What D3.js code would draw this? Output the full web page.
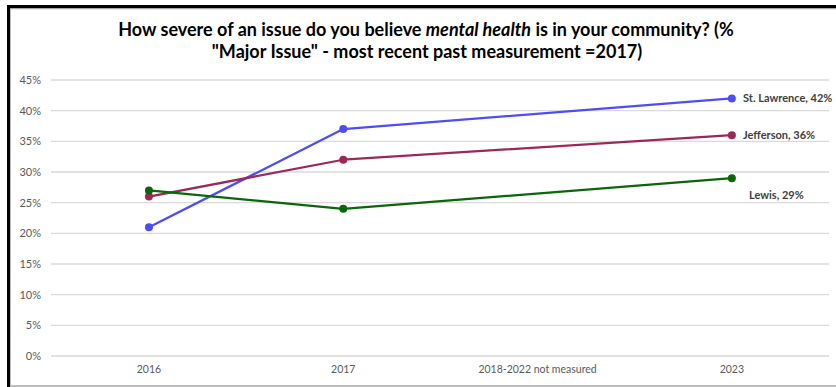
<!DOCTYPE html>
<html><head><meta charset="utf-8">
<script src="https://cdn.jsdelivr.net/npm/d3@7"></script>
<style>
html,body{margin:0;padding:0;background:#fff;}
svg{display:block;}
text{font-family:Lato,"Liberation Sans",sans-serif;}
</style></head>
<body>
<svg id="chart" width="836" height="387"></svg>
<script>
const categories = ["2016", "2017", "2018-2022 not measured", "2023"];
const stLawrence = [21, 37, null, 42];
const jefferson = [26, 32, null, 36];
const lewis = [27, 24, null, 29];
const seriesNames = ["St. Lawrence", "Jefferson", "Lewis"];
const yTicks = [0, 5, 10, 15, 20, 25, 30, 35, 40, 45];

const series = [
  {name: seriesNames[0], values: stLawrence, color: "#4d4df5", lx: 743, ly: 0},
  {name: seriesNames[1], values: jefferson, color: "#9c2857", lx: 743, ly: 0},
  {name: seriesNames[2], values: lewis, color: "#0a660a", lx: 749, ly: 17}
];

const svg = d3.select("#chart");

// frame
svg.append("rect").attr("x", 10).attr("y", 8.5).attr("width", 840).attr("height", 377.5)
  .attr("fill", "#fff").attr("stroke", "#a6a6a6").attr("stroke-width", 1.5);
svg.append("line").attr("x1", 7).attr("x2", 836).attr("y1", 6.5).attr("y2", 6.5)
  .attr("stroke", "#000").attr("stroke-width", 3);
svg.append("line").attr("x1", 8.5).attr("x2", 8.5).attr("y1", 5).attr("y2", 387)
  .attr("stroke", "#000").attr("stroke-width", 3);

// title
const t1 = svg.append("text").attr("font-weight", "bold").attr("font-size", 18).attr("fill", "#000")
  .attr("x", 426).attr("y", 36).attr("text-anchor", "middle");
t1.append("tspan").text("How severe of an issue do you believe ");
t1.append("tspan").attr("font-style", "italic").text("mental health");
t1.append("tspan").text(" is in your community? (%");
svg.append("text").attr("font-weight", "bold").attr("font-size", 18).attr("fill", "#000")
  .attr("x", 427).attr("y", 58).attr("text-anchor", "middle")
  .text("\"Major Issue\" - most recent past measurement =2017)");

const x = d3.scaleBand().domain(categories).range([51.8, 829]).padding(0);
const y = d3.scaleLinear().domain([0, 45]).range([356, 80]);

// gridlines
svg.append("g").selectAll("line").data(yTicks).join("line")
  .attr("x1", 51).attr("x2", 829)
  .attr("y1", d => y(d)).attr("y2", d => y(d))
  .attr("stroke", "#d9d9d9").attr("stroke-width", 1.3);

// y axis
const yAxis = svg.append("g").attr("transform", "translate(41,0)")
  .call(d3.axisLeft(y).tickValues(yTicks).tickFormat(d => d + "%").tickSize(0).tickPadding(0));
yAxis.select(".domain").remove();
yAxis.selectAll("text").attr("font-size", 11).attr("fill", "#595959")
  .style("font-family", "Lato, 'Liberation Sans', sans-serif");

// x axis
const xAxis = svg.append("g").attr("transform", "translate(0,366)")
  .call(d3.axisBottom(x).tickSize(0).tickPadding(0));
xAxis.select(".domain").remove();
xAxis.selectAll("text").attr("font-size", 10.5).attr("fill", "#595959")
  .style("font-family", "Lato, 'Liberation Sans', sans-serif");

const cx = d => x(d) + x.bandwidth() / 2;

// lines (connect across gap)
const line = d3.line().x(d => cx(d.c)).y(d => y(d.v));
series.forEach(s => {
  const pts = categories.map((c, i) => ({c, v: s.values[i]})).filter(d => d.v !== null);
  svg.append("path").datum(pts).attr("d", line).attr("fill", "none")
    .attr("stroke", s.color).attr("stroke-width", 2.25).attr("stroke-linejoin", "round");
  svg.append("g").selectAll("circle").data(pts).join("circle")
    .attr("cx", d => cx(d.c)).attr("cy", d => y(d.v)).attr("r", 4).attr("fill", s.color);
  const last = pts[pts.length - 1];
  svg.append("text").attr("x", s.lx).attr("y", y(last.v) + s.ly).attr("dy", "0.35em")
    .attr("font-size", 11).attr("font-weight", "bold").attr("fill", "#404040")
    .text(s.name + ", " + last.v + "%");
});
</script>
</body></html>
